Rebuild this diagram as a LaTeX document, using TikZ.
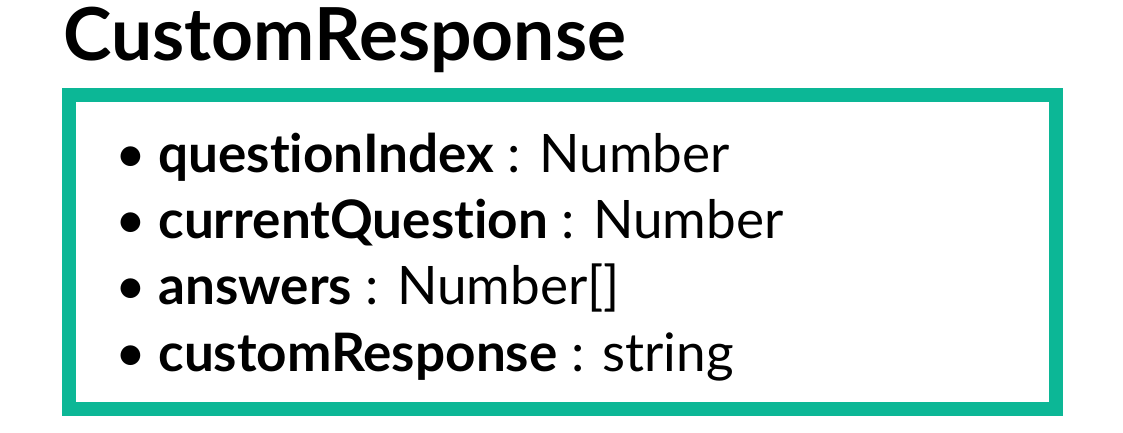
\documentclass[tikz,border=0pt]{standalone}
\usepackage{fontspec}
\setmainfont[Ligatures=NoCommon]{Lato}
\usetikzlibrary{positioning}
\definecolor{boxteal}{RGB}{12,183,150}
\tikzstyle{title}  = [font=\bfseries\fontsize{20.8}{24}\selectfont, inner sep=0pt, anchor=base west]
\tikzstyle{frame}  = [rectangle, draw=boxteal, line width=0.14cm,
                      minimum width=9.87cm, minimum height=3.14cm]
\tikzstyle{field}  = [font=\fontsize{15.1}{18}\selectfont, inner sep=0pt,
                      text height=0.40cm, text depth=0.25cm]

\begin{document}
\begin{tikzpicture}
  \useasboundingbox (0,0) rectangle (11.23,4.32);

  % --- Title ---
  \node (t_lbl) [title] at (0.63,3.72) {CustomResponse};

  % --- Frame ---
  \node (box) [frame] at (5.625,1.80) {};

  % --- Fields ---
  \node (qindex)  [field, anchor=base west] at (1.15,2.60)
                  {\textbullet\hspace{0.12cm}\textbf{questionIndex} : Number};
  \node (current) [field, below right=0cm and 0cm of qindex.south west]
                  {\textbullet\hspace{0.12cm}\textbf{currentQuestion} : Number};
  \node (answers) [field, below right=0cm and 0cm of current.south west]
                  {\textbullet\hspace{0.12cm}\textbf{answers} : Number[]};
  \node (custom)  [field, below right=0cm and 0cm of answers.south west]
                  {\textbullet\hspace{0.12cm}\textbf{customResponse} : string};

\end{tikzpicture}
\end{document}
